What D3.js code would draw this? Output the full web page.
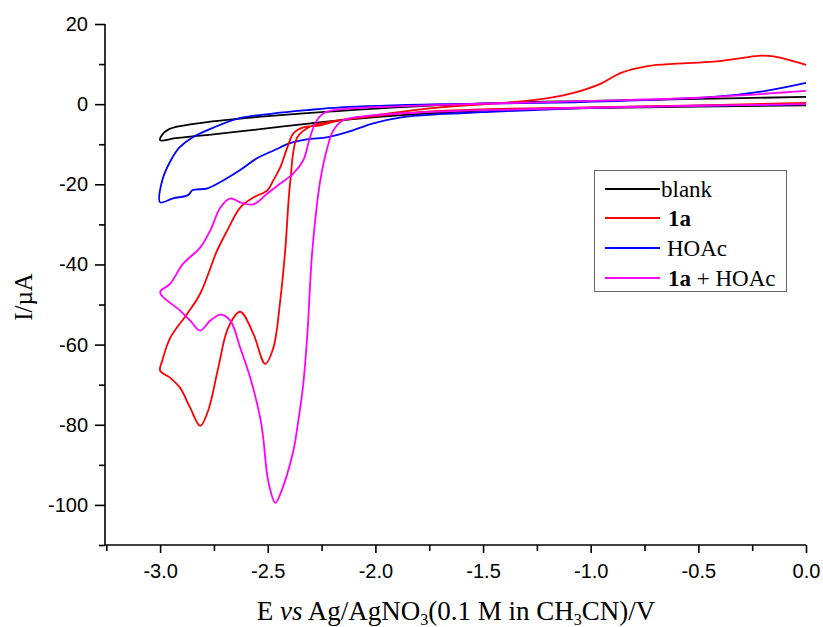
<!DOCTYPE html>
<html><head><meta charset="utf-8">
<script src="https://cdn.jsdelivr.net/npm/d3@7"></script>
<style>
html,body{margin:0;padding:0;background:#fff;}
svg{display:block;}
</style></head>
<body>
<svg id="chart" width="823" height="627"></svg>
<script>
// ---- data (E in V, I in µA) ----
const xMajorTicks = [-3.0, -2.5, -2.0, -1.5, -1.0, -0.5, 0.0];
const xMinorTicks = [-3.25, -2.75, -2.25, -1.75, -1.25, -0.75, -0.25];
const yMajorTicks = [-100, -80, -60, -40, -20, 0, 20];
const yMinorTicks = [-110, -90, -70, -50, -30, -10, 10];

const seriesNames = ["blank", "1a", "HOAc", "1a + HOAc"];
const seriesColors = ["#000000", "#ff0000", "#0000ff", "#ff00ff"];

const blank = [[0,-0.3],[-0.5,-0.6],[-1.0,-1.0],[-1.5,-1.6],[-2.0,-3.2],[-2.3,-4.8],[-2.63,-6.8],[-2.8,-7.8],[-2.93,-8.5],[-3.0,-9.0],
  [-2.99,-7.6],[-2.96,-6.3],[-2.9,-5.4],[-2.8,-4.6],[-2.7,-4.0],[-2.5,-3.0],[-2.2,-1.8],[-2.0,-1.1],[-1.5,0.2],[-1.0,0.8],[-0.5,1.3],[0,1.8]];

const red1a = [[0,0.3],[-0.5,-0.3],[-1.0,-0.8],[-1.5,-1.3],[-1.8,-2.0],[-2.0,-3.0],[-2.2,-4.3],[-2.3,-5.5],[-2.363,-8.3],[-2.395,-19],
  [-2.419,-36.5],[-2.442,-49],[-2.474,-60.8],[-2.512,-64.8],[-2.567,-57.3],[-2.628,-51.8],[-2.684,-55.8],[-2.73,-65.8],[-2.777,-76.5],
  [-2.814,-80.3],[-2.86,-75.8],[-2.907,-70.8],[-2.953,-68.3],[-3.0,-66.5],[-2.99,-64],[-2.953,-58.3],[-2.874,-52.3],[-2.814,-47.3],
  [-2.735,-36.5],[-2.688,-31.5],[-2.628,-25.8],[-2.567,-23.3],[-2.502,-21.5],[-2.474,-19],[-2.442,-15.8],[-2.409,-10.8],[-2.381,-7.3],
  [-2.335,-5.8],[-2.256,-5.3],[-2.163,-4.0],[-1.98,-2.6],[-1.7,-0.8],[-1.36,0.5],[-1.2,1.5],[-1.08,2.8],[-0.95,5.2],[-0.86,7.8],
  [-0.735,9.5],[-0.6,10.1],[-0.43,10.6],[-0.3,11.5],[-0.21,12.1],[-0.15,11.9],[0,9.8]];

const hoac = [[0,0],[-0.5,-0.4],[-1.0,-0.9],[-1.5,-2.0],[-1.7,-2.5],[-1.88,-3.3],[-2.01,-4.8],[-2.13,-7.0],[-2.22,-8.2],[-2.32,-8.8],
  [-2.4,-9.8],[-2.47,-11.5],[-2.55,-13.5],[-2.63,-16.5],[-2.69,-18.5],[-2.78,-21],[-2.85,-21.5],[-2.87,-22.7],[-2.94,-23.5],[-3.0,-24.5],
  [-2.99,-19],[-2.95,-14],[-2.91,-10.8],[-2.85,-8.3],[-2.75,-5.8],[-2.63,-3.5],[-2.47,-2.3],[-2.32,-1.5],[-2.16,-0.8],[-1.7,0],
  [-1.05,0.5],[-0.43,1.8],[-0.2,3.2],[0,5.3]];

const mix = [[0,0],[-0.5,-0.4],[-1.0,-0.9],[-1.5,-1.5],[-1.8,-2.1],[-2.009,-2.8],[-2.149,-4.0],[-2.195,-6.5],[-2.223,-10.8],[-2.256,-19],
  [-2.293,-36.5],[-2.316,-57.3],[-2.335,-69.8],[-2.363,-80.8],[-2.381,-86.5],[-2.442,-97.3],[-2.465,-99.5],[-2.498,-94],[-2.521,-83.3],
  [-2.535,-78.3],[-2.581,-68.3],[-2.628,-60.8],[-2.674,-54],[-2.72,-52.5],[-2.767,-54],[-2.814,-56.5],[-2.86,-54],[-2.907,-51.5],[-3.0,-47],
  [-2.953,-44.8],[-2.893,-39.8],[-2.814,-35.8],[-2.767,-31.5],[-2.72,-25.8],[-2.674,-23.5],[-2.628,-24.5],[-2.567,-25],[-2.502,-22.3],
  [-2.442,-19.8],[-2.381,-17.3],[-2.335,-14],[-2.305,-8.5],[-2.275,-4.3],[-2.235,-2.1],[-2.163,-1.3],[-1.7,-0.2],[-1.0,0.8],[-0.5,1.6],[0,3.3]];

const seriesData = [blank, red1a, hoac, mix];

// ---- drawing ----
const svg = d3.select("#chart");
const x = d3.scaleLinear().domain([-3.256, 0]).range([105, 806]);
const y = d3.scaleLinear().domain([-110, 20]).range([545, 24]);

const line = d3.line().x(d => x(d[0])).y(d => y(d[1])).curve(d3.curveCatmullRom.alpha(0.5));

// curves
const order = [0, 2, 1, 3];
order.forEach(i => {
  svg.append("path").datum(seriesData[i])
    .attr("d", line).attr("fill", "none")
    .attr("stroke", seriesColors[i]).attr("stroke-width", 1.8)
    .attr("stroke-linejoin", "round");
});

// axes
const fmtX = d => d3.format(".1f")(d).replace("\u2212", "-");
const fmtY = d => d3.format("d")(d).replace("\u2212", "-");
const xAxisG = svg.append("g").attr("transform", `translate(0,${y(-110)})`);
xAxisG.call(d3.axisBottom(x).tickValues(xMajorTicks).tickSize(8).tickPadding(11).tickFormat(fmtX));
const xMinorG = svg.append("g").attr("transform", `translate(0,${y(-110)})`);
xMinorG.call(d3.axisBottom(x).tickValues(xMinorTicks).tickSize(6).tickFormat(""));
const yAxisG = svg.append("g").attr("transform", `translate(${x(-3.256)},0)`);
yAxisG.call(d3.axisLeft(y).tickValues(yMajorTicks).tickSize(10).tickPadding(7).tickFormat(fmtY));
const yMinorG = svg.append("g").attr("transform", `translate(${x(-3.256)},0)`);
yMinorG.call(d3.axisLeft(y).tickValues(yMinorTicks).tickSize(6).tickFormat(""));
[xMinorG, yMinorG].forEach(g => g.select(".domain").remove());
[xAxisG, yAxisG, xMinorG, yMinorG].forEach(g => {
  g.selectAll("path.domain").attr("stroke", "#000").attr("stroke-width", 1.6);
  g.selectAll(".tick line").attr("stroke", "#000").attr("stroke-width", 1.6);
  g.selectAll("text").attr("font-family", "Liberation Sans, Arial, sans-serif").attr("font-size", 20).attr("fill", "#000");
});
xAxisG.select(".domain").attr("d", `M${x(-3.256)},0H${x(0)}`);
yAxisG.select(".domain").attr("d", `M0,${y(20)}V${y(-110)}`);

// axis titles
const serif = "Liberation Serif, Times New Roman, serif";
svg.append("text").attr("transform", "translate(32,297) rotate(-90)")
  .attr("text-anchor", "middle").attr("font-family", serif).attr("font-size", 25).text("I/\u00b5A");

const xt = svg.append("text").attr("x", 456).attr("y", 620).attr("text-anchor", "middle")
  .attr("font-family", serif).attr("font-size", 27);
xt.append("tspan").text("E ");
xt.append("tspan").attr("font-style", "italic").text("vs");
xt.append("tspan").text(" Ag/AgNO");
xt.append("tspan").attr("font-size", 16).attr("dy", 5).text("3");
xt.append("tspan").attr("dy", -5).text("(0.1 M in CH");
xt.append("tspan").attr("font-size", 16).attr("dy", 5).text("3");
xt.append("tspan").attr("dy", -5).text("CN)/V");

// legend
const lg = svg.append("g");
lg.append("rect").attr("x", 594.5).attr("y", 170.5).attr("width", 192).attr("height", 121)
  .attr("fill", "#fff").attr("stroke", "#666").attr("stroke-width", 1);
const legY = [189, 218, 248, 278];
const legTextX = [661, 668, 667, 668];
seriesNames.forEach((name, i) => {
  lg.append("line").attr("x1", 605).attr("x2", 660).attr("y1", legY[i]).attr("y2", legY[i])
    .attr("stroke", seriesColors[i]).attr("stroke-width", 1.8);
  const t = lg.append("text").attr("x", legTextX[i]).attr("y", legY[i] + 8)
    .attr("font-family", serif).attr("font-size", 23);
  if (name.startsWith("1a")) {
    t.append("tspan").attr("font-weight", "bold").text("1a");
    if (name.length > 2) t.append("tspan").text(name.slice(2));
  } else {
    t.text(name);
  }
});
</script>
</body></html>
